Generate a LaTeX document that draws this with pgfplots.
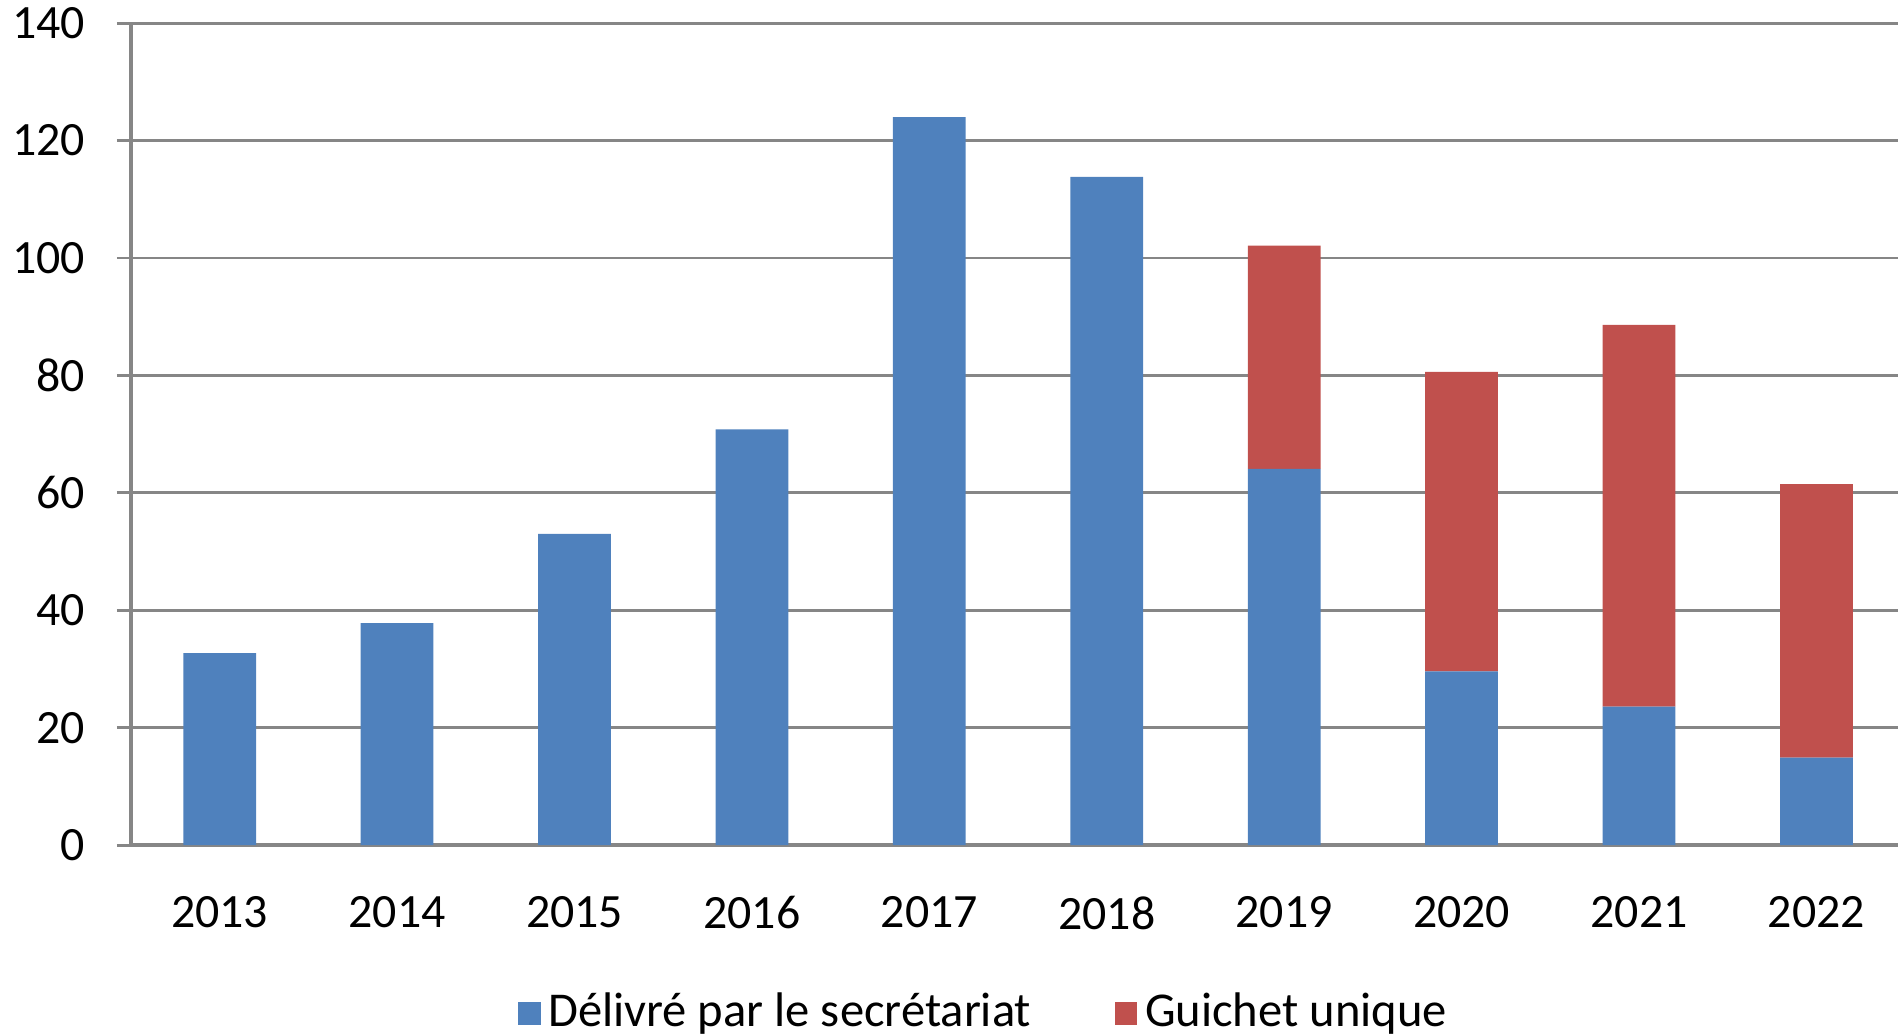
\documentclass[border=0pt]{standalone}
\usepackage{fontspec}
\setmainfont{Carlito}
\usepackage{pgfplots}
\pgfplotsset{compat=1.18}
\definecolor{cblue}{HTML}{4F81BD}
\definecolor{cred}{HTML}{C0504D}
\definecolor{cgrid}{HTML}{868686}
\begin{document}
\fontsize{12.5}{15}\selectfont
\begin{tikzpicture}
\begin{axis}[
  at={(0,0)}, anchor=south west,
  scale only axis,
  width=465.4pt, height=216.5pt,
  ybar stacked,
  bar width=0.41,
  xmin=-0.5, xmax=9.46,
  ymin=0, ymax=140,
  ytick={0,20,...,140},
  xtick={0,...,9},
  xticklabels={2013,2014,2015,2016,2017,2018,2019,2020,2021,2022},
  extra x ticks={-0.5,0.5,...,8.5},
  extra x tick labels={},
  extra x tick style={xmajorgrids=false, major tick length=4.5pt, tick align=outside, tick style={draw=cgrid, line width=0.8pt}},
  x tick style={draw=none},
  y tick style={draw=cgrid, line width=0.75pt},
  tick align=outside,
  major tick length=3.7pt,
  ymajorgrids,
  grid style={cgrid, line width=0.75pt},
  axis x line*=bottom,
  axis y line*=left,
  axis line style={cgrid, line width=0.9pt, -},
  xticklabel style={yshift=-5.5pt},
  yticklabel style={xshift=-4pt},
  /pgf/number format/assume math mode=true,
  ticklabel style={font=\fontsize{12.6}{15}\selectfont},
  legend style={at={(0.484,-0.205)}, anchor=center, draw=none, fill=none, legend columns=2,
    /tikz/every even column/.append style={column sep=20pt},
    font=\fontsize{12.8}{15}\selectfont},
  legend image code/.code={\fill[#1] (0pt,-3pt) rectangle (6pt,3pt);},
]
\addplot[fill=cblue, draw=none] coordinates {(0,32.7) (1,37.8) (2,53) (3,70.8) (4,124) (5,113.8) (6,64.1) (7,29.6) (8,23.6) (9,14.9)};
\addplot[fill=cred, draw=none] coordinates {(0,0) (1,0) (2,0) (3,0) (4,0) (5,0) (6,38) (7,51) (8,65) (9,46.6)};
\legend{Délivré par le secrétariat, Guichet unique}
\end{axis}
\pgfresetboundingbox
\useasboundingbox (-34.5pt,-50pt) rectangle (465.4pt,222.6pt);
\end{tikzpicture}
\end{document}
